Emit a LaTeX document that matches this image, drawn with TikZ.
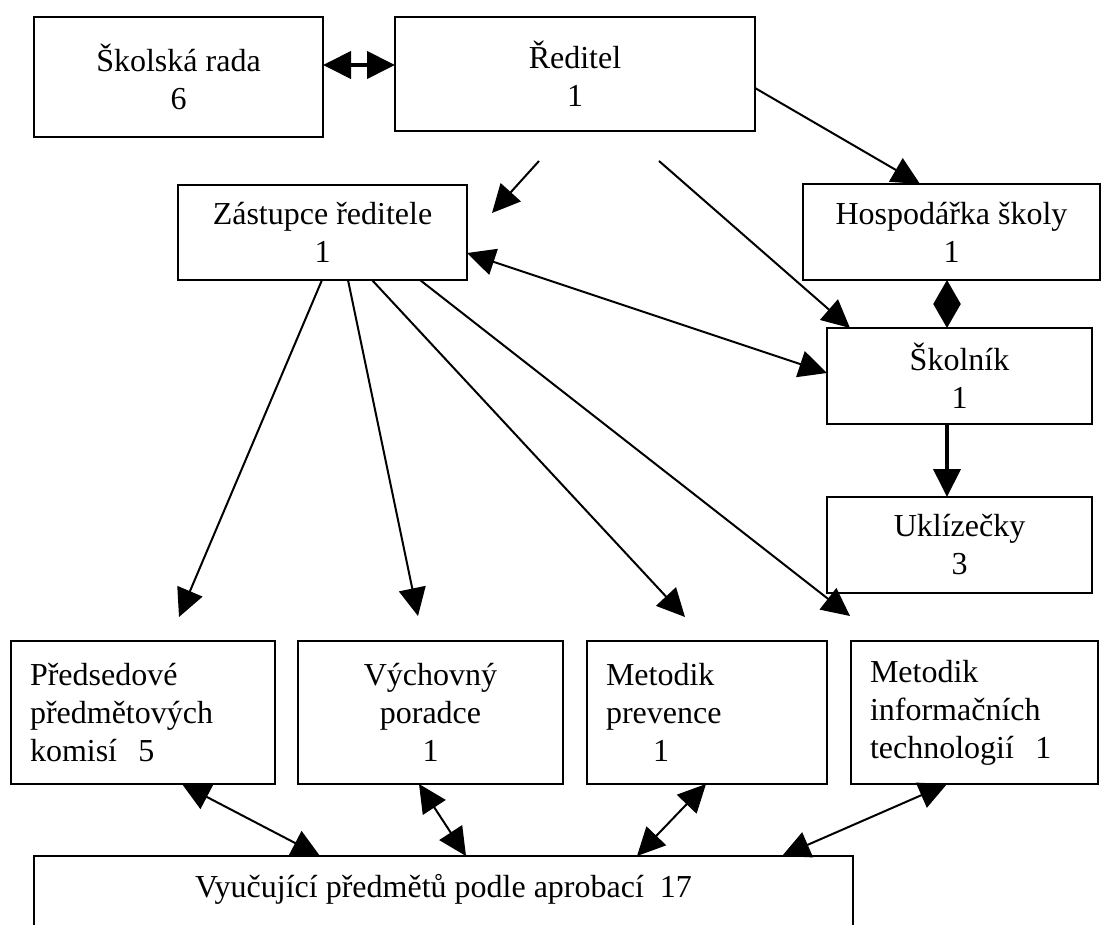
\documentclass[tikz,border=0pt]{standalone}
\usepackage{fontspec}
\setmainfont{Liberation Serif}
\usetikzlibrary{arrows.meta}
\usetikzlibrary{calc}

\begin{document}
\begin{tikzpicture}[x=1pt, y=-1pt,
    ramecek/.style={draw=black, line width=2pt, inner sep=0pt, outer sep=0pt, align=center, font=\fontsize{32}{38}\selectfont},
    vlevo/.style={align=left, inner xsep=19pt, text width=#1},
    sipka/.style={line width=2pt, -{Triangle[length=28pt, width=27pt]}},
    obousipka/.style={line width=2pt, {Triangle[length=28pt, width=27pt]}-{Triangle[length=28pt, width=27pt]}}]

    \useasboundingbox (0,0) rectangle (1102,925);

    % horni rada
    \node[ramecek, minimum width=289pt, minimum height=120pt] (rada) at (178.5,77) {Školská rada\\6};
    \node[ramecek, minimum width=360pt, minimum height=114pt] (reditel) at (575,74) {Ředitel\\1};
    \node[ramecek, minimum width=289pt, minimum height=95pt] (zast) at (322.5,232.5) {Zástupce ředitele\\1};
    \node[ramecek, minimum width=297pt, minimum height=96pt] (hosp) at (951.5,232) {Hospodářka školy\\1};
    \node[ramecek, minimum width=265pt, minimum height=96pt] (skolnik) at (959.5,376) {Školník\\1};
    \node[ramecek, minimum width=265pt, minimum height=96pt] (uklid) at (959.5,545) {Uklízečky\\3};

    % spodni rada
    \node[ramecek, vlevo=226pt, minimum height=143pt] (predsed) at (143,712.5) {Předsedové\\předmětových\\komisí~~5};
    \node[ramecek, minimum width=265pt, minimum height=143pt] (vychov) at (430.5,712.5) {Výchovný\\poradce\\1};
    \node[ramecek, vlevo=202pt, minimum height=143pt] (prevence) at (707,712.5) {Metodik\\prevence\\\hspace*{47pt}1};
    \node[ramecek, vlevo=209pt, minimum height=143pt] (infotech) at (974.5,712.5) {Metodik\\informačních\\technologií~~1};
    \node[ramecek, anchor=north west, minimum width=819pt, text height=41pt, text depth=90pt] (vyuc) at (34,856) {Vyučující předmětů podle aprobací~~17};

    % sipky od reditele
    \draw[obousipka, line width=4pt] ($(rada.north east)+(0,48)$) -- ($(reditel.north west)+(0,48)$);
    \draw[sipka] ($(reditel.south west)+(144,30)$) -- ($(zast.north east)+(25,28)$);
    \draw[sipka] ($(reditel.south west)+(264,30)$) -- ($(skolnik.north west)+(23,0)$);
    \draw[sipka] ($(reditel.north east)+(0,71)$) -- ($(hosp.north west)+(117,0)$);
    \draw[obousipka] ($(zast.north east)+(0,68)$) -- ($(skolnik.north west)+(0,45)$);
    \draw[line width=2pt, {Triangle[length=24pt, width=27pt]}-{Triangle[length=24pt, width=27pt]}] ($(hosp.south west)+(144,0)$) -- ($(skolnik.north west)+(120,0)$);
    \draw[sipka, line width=4pt] ($(skolnik.south west)+(120,0)$) -- ($(uklid.north west)+(120,0)$);

    % sipky od zastupce
    \draw[sipka] ($(zast.south west)+(144,0)$) -- ($(predsed.north west)+(168,-24)$);
    \draw[sipka] ($(zast.south west)+(170,0)$) -- ($(vychov.north west)+(120,-25)$);
    \draw[sipka] ($(zast.south west)+(194,0)$) -- ($(prevence.north west)+(98,-24)$);
    \draw[sipka] ($(zast.south west)+(242,0)$) -- ($(infotech.north west)+(-1,-25)$);

    % vyucujici
    \draw[obousipka] ($(predsed.south west)+(171,0)$) -- ($(vyuc.north west)+(286,0)$);
    \draw[obousipka] ($(vychov.south west)+(121,0)$) -- ($(vyuc.north west)+(432,0)$);
    \draw[obousipka] ($(prevence.south west)+(119,0)$) -- ($(vyuc.north west)+(603,0)$);
    \draw[obousipka] ($(infotech.south west)+(96,0)$) -- ($(vyuc.north west)+(748,0)$);

\end{tikzpicture}
\end{document}
